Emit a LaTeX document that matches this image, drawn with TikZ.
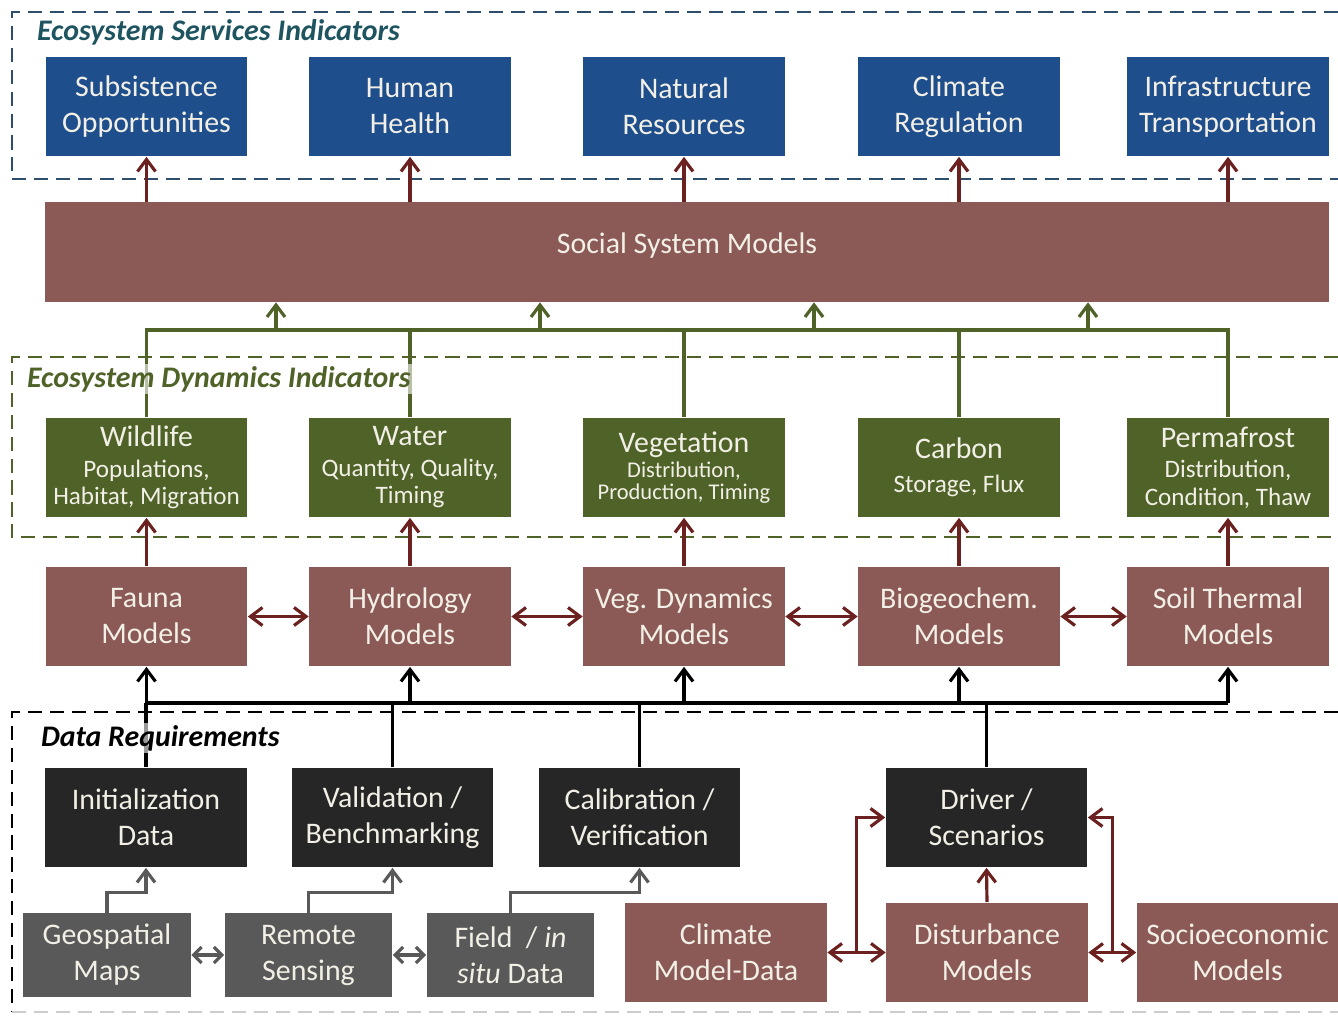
\documentclass[tikz,border=0pt]{standalone}
\usepackage{fontspec}
\setmainfont{Carlito}
\usetikzlibrary{arrows.meta,calc}

\definecolor{svcblue}{HTML}{1F4E8C}
\definecolor{dyngreen}{HTML}{4F6228}
\definecolor{mdlbrown}{HTML}{8B5A57}
\definecolor{datblack}{HTML}{262626}
\definecolor{srcgray}{HTML}{595959}
\definecolor{arrred}{HTML}{6A2120}
\definecolor{svcframe}{HTML}{2E4E6E}
\definecolor{svctitle}{HTML}{1E5460}
\definecolor{boxtext}{HTML}{F2F0E6}

\newcommand{\dynhead}[1]{{\fontsize{17}{19}\selectfont #1}}

\begin{document}
\begin{tikzpicture}[x=0.02cm,y=-0.02cm,
    box/.style={minimum width=4.04cm,minimum height=2cm,inner sep=0pt,align=center,
                text=boxtext,font=\fontsize{17}{20.5}\selectfont},
    svc/.style={box,fill=svcblue},
    dyn/.style={box,fill=dyngreen,font=\fontsize{14.3}{15.5}\selectfont},
    mdl/.style={box,fill=mdlbrown},
    dat/.style={box,fill=datblack},
    src/.style={box,fill=srcgray,minimum width=3.36cm,minimum height=1.68cm},
    frame/.style={line width=1pt,dash pattern=on 8pt off 4.5pt},
    grouptitle/.style={anchor=west,inner sep=1pt,font=\fontsize{17}{19}\selectfont\bfseries\itshape},
    tip/.style={-{Straight Barb[length=2.4mm,width=3.6mm]}},
    tips/.style={{Straight Barb[length=2.4mm,width=3.6mm]}-{Straight Barb[length=2.4mm,width=3.6mm]}},
    redline/.style={draw=arrred,line width=1.8pt},
    grnline/.style={draw=dyngreen,line width=1.8pt},
    blkline/.style={draw=black,line width=1.8pt},
    gryline/.style={draw=srcgray,line width=1.8pt}]

    \useasboundingbox (0,0) rectangle (1338,1016);

    % dashed group frames
    \draw[frame,svcframe] (1338,12) -| (12,179) -- (1338,179);
    \draw[frame,dyngreen] (1338,357) -| (12,537) -- (1338,537);
    \draw[frame,black] (1338,712) -| (12,1012);
    \draw[frame,black!20,line width=0.6pt] (12,1012) -- (1338,1012);

    % ecosystem services indicators
    \node[svc] (subs)  at (146.5,106.5) {Subsistence\\Opportunities};
    \node[svc] (human) at (410,106.5)   {Human\\Health};
    \node[svc] (natres) at (684,106.5)  {Natural\\Resources};
    \node[svc] (climreg) at (959,106.5) {Climate\\Regulation};
    \node[svc] (infra) at (1228,106.5)  {Infrastructure\\Transportation};

    % social system
    \node[mdl,minimum width=25.68cm] (social) at (687,252) {\raisebox{10pt}{Social System Models}};

    % ecosystem dynamics indicators
    \node[dyn] (wild)  at (146.5,467.5) {\dynhead{Wildlife}\\[2pt]Populations,\\Habitat, Migration};
    \node[dyn] (water) at (410,467.5)   {\dynhead{Water}\\[2pt]Quantity, Quality,\\Timing};
    \node[dyn,font=\fontsize{12.8}{12.5}\selectfont] (veg) at (684,467.5)
        {\dynhead{Vegetation}\\[2pt]Distribution,\\Production, Timing};
    \node[dyn] (carbon) at (959,467.5)  {\dynhead{Carbon}\\[4pt]Storage, Flux};
    \node[dyn] (perma) at (1228,467.5)  {\dynhead{Permafrost}\\[2pt]Distribution,\\Condition, Thaw};

    % process models
    \node[mdl] (fauna) at (146.5,616.5) {Fauna\\Models};
    \node[mdl] (hydro) at (410,616.5)   {Hydrology\\Models};
    \node[mdl] (vegdyn) at (684,616.5)  {Veg. Dynamics\\Models};
    \node[mdl] (biogeo) at (959,616.5)  {Biogeochem.\\Models};
    \node[mdl] (soil) at (1228,616.5)   {Soil Thermal\\Models};

    % data requirements
    \node[dat] (init)  at (146,817.5)   {Initialization\\Data};
    \node[dat] (valid) at (392.5,817.5) {Validation /\\Benchmarking};
    \node[dat] (calib) at (639.5,817.5) {Calibration /\\Verification};
    \node[dat] (driver) at (986.5,817.5) {Driver /\\Scenarios};

    \node[src] (geo)   at (107,955)   {Geospatial\\Maps};
    \node[src] (remote) at (308.5,955) {Remote\\Sensing};
    \node[src] (field) at (510.5,955) {Field~~/ \textit{in}\\\textit{situ} Data};

    \node[mdl] (climdat) at (726,952.5)  {Climate\\Model-Data};
    \node[mdl] (disturb) at (987,952.5)  {Disturbance\\Models};
    \node[mdl] (socio) at (1237.5,952.5) {Socioeconomic\\Models};

    % social system -> services
    \foreach \n in {subs,human,natres,climreg,infra}
        \draw[redline,tip] (\n.south |- social.north) -- (\n.south);

    % dynamics -> social system
    \coordinate (gbus) at (0,330);
    \draw[grnline] (wild.north) |- (gbus -| perma.north) -- (perma.north);
    \foreach \n in {water,veg,carbon}
        \draw[grnline] (\n.north) -- (\n.north |- gbus);
    \foreach \x in {276,540,814,1088}
        \draw[grnline,tip] (\x,330) -- (\x,330 |- social.south);

    % models -> dynamics
    \foreach \a/\b in {fauna/wild,hydro/water,vegdyn/veg,biogeo/carbon,soil/perma}
        \draw[redline,tip] (\a.north) -- (\b.south);
    \foreach \a/\b in {fauna/hydro,hydro/vegdyn,vegdyn/biogeo,biogeo/soil}
        \draw[redline,tips] (\a.east) -- (\b.west);

    % data -> models
    \coordinate (kbus) at (0,703);
    \draw[blkline] (kbus -| fauna.south) -- (kbus -| soil.south);
    \foreach \n in {fauna,hydro,vegdyn,biogeo,soil}
        \draw[blkline,tip] (kbus -| \n.south) -- (\n.south);
    \foreach \n in {init,valid,calib,driver}
        \draw[blkline] (\n.north) -- (\n.north |- kbus);

    % sources -> data
    \draw[gryline,tip] (geo.north) -- ++(0,-20) -| (init.south);
    \draw[gryline,tip] (remote.north) -- ++(0,-20) -| (valid.south);
    \draw[gryline,tip] (field.north) -- ++(0,-20) -| (calib.south);
    \draw[gryline,{Straight Barb[length=1.6mm,width=3.2mm]}-{Straight Barb[length=1.6mm,width=3.2mm]}]
        (geo.east) -- (remote.west);
    \draw[gryline,{Straight Barb[length=1.6mm,width=3.2mm]}-{Straight Barb[length=1.6mm,width=3.2mm]}]
        (remote.east) -- (field.west);

    % drivers
    \draw[redline,tip] (disturb.north) -- (driver.south);
    \draw[redline,tips] (climdat.east) -- (disturb.west);
    \draw[redline,tips] (disturb.east) -- (socio.west);
    \coordinate (jl) at ($(climdat.east)!0.5!(disturb.west)$);
    \coordinate (jr) at ($(disturb.east)!0.5!(socio.west)$);
    \draw[redline,tip] (jl) |- (driver.west);
    \draw[redline,tip] (jr) |- (driver.east);

    % group titles
    \node[grouptitle,text=svctitle] (svctitle) at (35,32) {Ecosystem Services Indicators};
    \node[grouptitle,text=dyngreen,fill=white,fill opacity=0.6,text opacity=1] (dyntitle) at (25,379)
        {Ecosystem Dynamics Indicators};
    \node[grouptitle,text=black,fill=white,fill opacity=0.6,text opacity=1] (dattitle) at (39,738)
        {Data Requirements};
\end{tikzpicture}
\end{document}
